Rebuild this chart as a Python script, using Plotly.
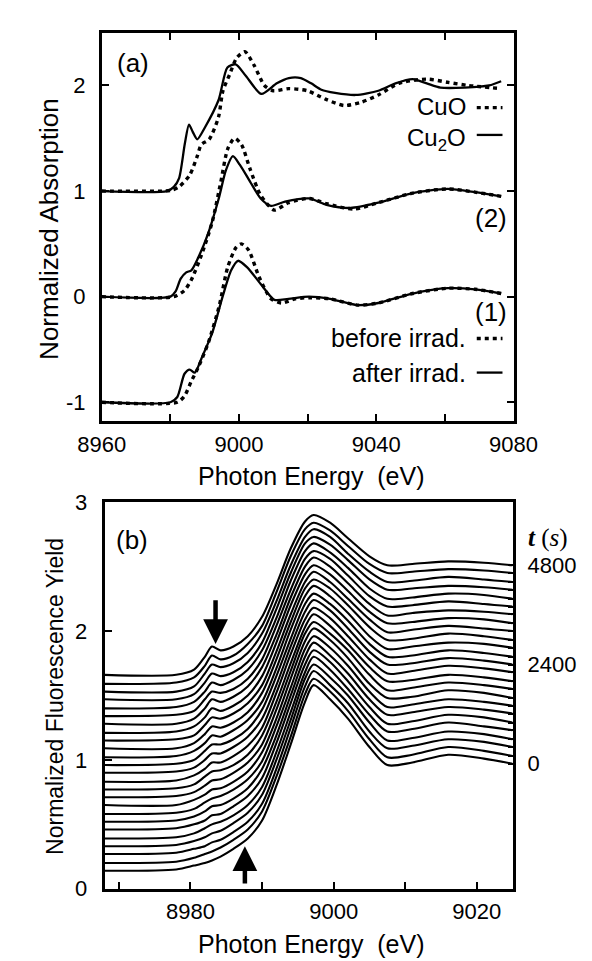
import plotly.graph_objects as go

W, H = 592, 961

# ---------------- Panel (a): normalized absorption (eV, mu) ----------------
cuo_E = [8960, 8978, 8980.5, 8982.5, 8985.6, 8987.8, 8989, 8991.3, 8994, 8995.3, 8997.2,
         8999.3, 9001.7, 9004.4, 9007.4, 9010, 9014.5, 9019.9, 9025.2, 9030.6, 9035.5,
         9040.6, 9046.6, 9054.7, 9060.8, 9066.8, 9076.4]
cuo_mu = [1.00, 1.00, 1.01, 1.04, 1.15, 1.33, 1.44, 1.49, 1.70, 1.95, 2.10,
          2.26, 2.32, 2.19, 2.00, 1.95, 1.97, 1.95, 1.87, 1.81, 1.84,
          1.91, 2.02, 2.06, 2.03, 2.00, 1.97]

cu2o_E = [8960, 8979, 8981, 8982.5, 8984.2, 8985.4, 8986.5, 8987.8, 8990, 8994, 8996.6,
          8999, 9002, 9006.5, 9011, 9014.5, 9018, 9021, 9024, 9028, 9034, 9040.6, 9045.6,
          9050.6, 9054.7, 9058.7, 9065.8, 9072.9, 9076.4]
cu2o_mu = [1.00, 1.00, 1.04, 1.12, 1.45, 1.63, 1.56, 1.49, 1.60, 1.86, 2.17,
           2.20, 2.09, 1.92, 2.02, 2.07, 2.07, 2.02, 1.96, 1.93, 1.91, 1.95, 2.02,
           2.06, 2.02, 1.98, 1.98, 2.00, 2.04]

s2_after_E = [8960, 8980, 8981.5, 8983, 8984.6, 8986.1, 8988.1, 8991, 8994, 8996.2, 8998.2,
              9000.2, 9003.2, 9006.3, 9009.3, 9013.4, 9020.4, 9025.5, 9032.5, 9040.6,
              9050.6, 9060.8, 9068.8, 9076.4]
s2_after_mu = [0.00, 0.00, 0.05, 0.17, 0.23, 0.25, 0.37, 0.60, 0.92, 1.20, 1.33,
               1.25, 1.09, 0.93, 0.86, 0.90, 0.93, 0.87, 0.84, 0.89,
               0.98, 1.02, 0.99, 0.95]

s2_before_E = [8960, 8981, 8984.1, 8986.1, 8989.1, 8992.2, 8994.7, 8996.7, 8998.7, 9000.7,
               9003.2, 9006.3, 9010.3, 9014.4, 9020.4, 9025.5, 9033.5, 9040.6, 9050.6,
               9060.8, 9068.8, 9076.4]
s2_before_mu = [0.00, 0.00, 0.06, 0.16, 0.40, 0.71, 1.09, 1.40, 1.50, 1.44,
                1.21, 0.96, 0.82, 0.89, 0.93, 0.88, 0.83, 0.89, 0.98,
                1.02, 0.99, 0.95]

s1_after_E = [8960, 8980, 8982, 8984.1, 8985.6, 8987.1, 8989.1, 8992.2, 8995.2, 8997.7,
              8999.7, 9002.3, 9006.3, 9010.3, 9014.4, 9020.4, 9026.5, 9034.5, 9040.6,
              9050.6, 9060.8, 9068.8, 9076.4]
s1_after_mu = [-1.00, -1.00, -0.95, -0.73, -0.69, -0.72, -0.58, -0.34, 0.00, 0.25,
               0.34, 0.28, 0.12, -0.03, -0.02, 0.00, -0.02, -0.08, -0.06,
               0.03, 0.08, 0.07, 0.03]

s1_before_E = [8960, 8982, 8984.1, 8986.1, 8988.1, 8991.1, 8994.2, 8996.7, 8999.2, 9000.7,
               9002.8, 9005.8, 9009.3, 9012.4, 9016.4, 9020.4, 9026.5, 9034.5, 9040.6,
               9050.6, 9060.8, 9068.8, 9076.4]
s1_before_mu = [-1.00, -1.00, -0.94, -0.80, -0.67, -0.43, -0.09, 0.28, 0.47, 0.50,
                0.44, 0.19, -0.02, -0.06, -0.02, -0.01, -0.02, -0.08, -0.06,
                0.03, 0.08, 0.07, 0.03]

a_xticks = [8960, 9000, 9040, 9080]
a_yticks = [-1, 0, 1, 2]
a_yticktext = ["-1", "0", "1", "2"]

# ---------------- Panel (b): fluorescence yield vs time ----------------
fy_energy = [8968, 8978, 8980.5, 8982, 8983, 8984.2, 8986, 8988, 8990, 8992, 8994,
             8996, 8997.2, 8999.5, 9002, 9005, 9007.5, 9011, 9016, 9021, 9025]

fy_t0000 = [.14, .15, .18, .20, .22, .25, .31, .39, .53, .80, 1.12, 1.45, 1.58, 1.47, 1.32, 1.10, .96, .98, 1.04, 1.01, .97]
fy_t0200 = [.20, .21, .24, .27, .29, .32, .38, .46, .60, .87, 1.18, 1.51, 1.63, 1.53, 1.38, 1.16, 1.02, 1.04, 1.10, 1.07, 1.03]
fy_t0400 = [.27, .28, .31, .33, .36, .38, .44, .52, .66, .93, 1.25, 1.57, 1.69, 1.58, 1.44, 1.22, 1.09, 1.11, 1.16, 1.14, 1.10]
fy_t0600 = [.33, .34, .37, .40, .43, .45, .51, .59, .73, 1.00, 1.31, 1.63, 1.74, 1.64, 1.50, 1.29, 1.15, 1.17, 1.22, 1.20, 1.16]
fy_t0800 = [.39, .40, .43, .47, .50, .52, .57, .65, .79, 1.06, 1.37, 1.68, 1.80, 1.70, 1.55, 1.35, 1.22, 1.24, 1.29, 1.26, 1.23]
fy_t1000 = [.46, .47, .50, .53, .57, .58, .64, .72, .86, 1.13, 1.44, 1.74, 1.85, 1.76, 1.61, 1.41, 1.28, 1.30, 1.35, 1.33, 1.29]
fy_t1200 = [.52, .53, .56, .60, .64, .65, .70, .78, .93, 1.19, 1.50, 1.80, 1.91, 1.81, 1.67, 1.47, 1.35, 1.37, 1.41, 1.39, 1.36]
fy_t1400 = [.58, .59, .62, .67, .70, .72, .77, .85, .99, 1.26, 1.56, 1.86, 1.96, 1.87, 1.73, 1.53, 1.41, 1.43, 1.47, 1.45, 1.42]
fy_t1600 = [.65, .65, .69, .73, .77, .78, .83, .91, 1.06, 1.32, 1.63, 1.92, 2.02, 1.93, 1.79, 1.59, 1.48, 1.49, 1.54, 1.52, 1.48]
fy_t1800 = [.71, .72, .75, .80, .84, .85, .90, .98, 1.12, 1.39, 1.69, 1.98, 2.07, 1.98, 1.85, 1.66, 1.54, 1.56, 1.60, 1.58, 1.55]
fy_t2000 = [.77, .78, .81, .87, .91, .92, .96, 1.04, 1.19, 1.45, 1.75, 2.03, 2.13, 2.04, 1.90, 1.72, 1.61, 1.62, 1.66, 1.64, 1.61]
fy_t2200 = [.83, .84, .88, .93, .98, .98, 1.03, 1.11, 1.25, 1.52, 1.82, 2.09, 2.18, 2.10, 1.96, 1.78, 1.67, 1.69, 1.73, 1.71, 1.68]
fy_t2400 = [.90, .91, .94, 1.00, 1.05, 1.05, 1.10, 1.18, 1.32, 1.58, 1.88, 2.15, 2.24, 2.16, 2.02, 1.84, 1.74, 1.75, 1.79, 1.77, 1.74]
fy_t2600 = [.96, .97, 1.00, 1.07, 1.12, 1.12, 1.16, 1.24, 1.39, 1.65, 1.94, 2.21, 2.29, 2.21, 2.08, 1.90, 1.80, 1.81, 1.85, 1.83, 1.80]
fy_t2800 = [1.02, 1.03, 1.07, 1.13, 1.19, 1.18, 1.23, 1.31, 1.45, 1.71, 2.01, 2.27, 2.35, 2.27, 2.14, 1.96, 1.86, 1.88, 1.91, 1.90, 1.87]
fy_t3000 = [1.09, 1.09, 1.13, 1.20, 1.26, 1.25, 1.29, 1.37, 1.52, 1.78, 2.07, 2.33, 2.40, 2.33, 2.20, 2.03, 1.93, 1.94, 1.98, 1.96, 1.93]
fy_t3200 = [1.15, 1.16, 1.19, 1.27, 1.33, 1.32, 1.36, 1.44, 1.58, 1.84, 2.13, 2.38, 2.46, 2.38, 2.25, 2.09, 1.99, 2.01, 2.04, 2.02, 2.00]
fy_t3400 = [1.21, 1.22, 1.26, 1.33, 1.40, 1.38, 1.42, 1.50, 1.65, 1.91, 2.20, 2.44, 2.51, 2.44, 2.31, 2.15, 2.06, 2.07, 2.10, 2.09, 2.06]
fy_t3600 = [1.28, 1.28, 1.32, 1.40, 1.47, 1.45, 1.49, 1.57, 1.72, 1.97, 2.26, 2.50, 2.57, 2.50, 2.37, 2.21, 2.12, 2.14, 2.16, 2.15, 2.13]
fy_t3800 = [1.34, 1.35, 1.38, 1.47, 1.53, 1.52, 1.55, 1.63, 1.78, 2.04, 2.32, 2.56, 2.62, 2.56, 2.43, 2.27, 2.19, 2.20, 2.23, 2.21, 2.19]
fy_t4000 = [1.40, 1.41, 1.45, 1.53, 1.60, 1.58, 1.62, 1.70, 1.85, 2.10, 2.39, 2.62, 2.68, 2.61, 2.49, 2.33, 2.25, 2.26, 2.29, 2.28, 2.25]
fy_t4200 = [1.47, 1.47, 1.51, 1.60, 1.67, 1.65, 1.68, 1.76, 1.91, 2.17, 2.45, 2.68, 2.73, 2.67, 2.55, 2.40, 2.32, 2.33, 2.35, 2.34, 2.32]
fy_t4400 = [1.53, 1.53, 1.57, 1.67, 1.74, 1.72, 1.75, 1.83, 1.98, 2.23, 2.51, 2.73, 2.79, 2.73, 2.60, 2.46, 2.38, 2.39, 2.42, 2.40, 2.38]
fy_t4600 = [1.59, 1.60, 1.64, 1.73, 1.81, 1.78, 1.81, 1.90, 2.04, 2.30, 2.58, 2.79, 2.84, 2.78, 2.66, 2.52, 2.45, 2.46, 2.48, 2.47, 2.45]
fy_t4800 = [1.66, 1.66, 1.70, 1.80, 1.88, 1.85, 1.88, 1.96, 2.11, 2.36, 2.64, 2.85, 2.90, 2.84, 2.72, 2.58, 2.51, 2.52, 2.54, 2.53, 2.51]

t_seconds = [0, 200, 400, 600, 800, 1000, 1200, 1400, 1600, 1800, 2000, 2200, 2400,
             2600, 2800, 3000, 3200, 3400, 3600, 3800, 4000, 4200, 4400, 4600, 4800]
t_labelled = [0, 2400, 4800]
b_yticks = [0, 1, 2, 3]

fy_curves = [fy_t0000, fy_t0200, fy_t0400, fy_t0600, fy_t0800, fy_t1000, fy_t1200,
             fy_t1400, fy_t1600, fy_t1800, fy_t2000, fy_t2200, fy_t2400, fy_t2600,
             fy_t2800, fy_t3000, fy_t3200, fy_t3400, fy_t3600, fy_t3800, fy_t4000,
             fy_t4200, fy_t4400, fy_t4600, fy_t4800]

# ---------------- figure ----------------
BLACK = "#000000"
FONT = "Liberation Sans, Arial, Helvetica, sans-serif"
SERIF = "Liberation Serif, DejaVu Serif, Times New Roman, serif"
DOT = "4px,4px"

fig = go.Figure()

for E, mu in [(cuo_E, cuo_mu), (s2_before_E, s2_before_mu), (s1_before_E, s1_before_mu)]:
    fig.add_trace(go.Scatter(x=E, y=mu, mode="lines", xaxis="x", yaxis="y",
                             line=dict(color=BLACK, width=3.4, dash=DOT, shape="spline", smoothing=0.7),
                             hoverinfo="skip"))
for E, mu in [(cu2o_E, cu2o_mu), (s2_after_E, s2_after_mu), (s1_after_E, s1_after_mu)]:
    fig.add_trace(go.Scatter(x=E, y=mu, mode="lines", xaxis="x", yaxis="y",
                             line=dict(color=BLACK, width=2.3, shape="spline", smoothing=0.7),
                             hoverinfo="skip"))

for t, row in zip(t_seconds, fy_curves):
    fig.add_trace(go.Scatter(x=fy_energy, y=row, mode="lines", xaxis="x2", yaxis="y2",
                             name=f"{t} s",
                             line=dict(color=BLACK, width=2.1, shape="spline", smoothing=0.8),
                             hoverinfo="skip"))

# invisible carrier so the right-hand time axis (curve ends) gets drawn
end_values = [row[-1] for row in fy_curves]
fig.add_trace(go.Scatter(x=[fy_energy[-1]] * len(end_values), y=end_values, mode="markers",
                         xaxis="x2", yaxis="y3", marker=dict(opacity=0, size=1),
                         hoverinfo="skip", showlegend=False))


def PX(x):
    return x / W


def PY(y):
    return 1 - y / H


tickfont = dict(family=FONT, size=22, color=BLACK)
axis_common = dict(showgrid=False, zeroline=False, showline=True, linecolor=BLACK,
                   linewidth=3, ticks="inside", ticklen=7, tickwidth=1.5,
                   tickcolor=BLACK, tickfont=tickfont)

fig.update_layout(
    width=W, height=H, margin=dict(l=0, r=0, t=0, b=0),
    paper_bgcolor="white", plot_bgcolor="white", showlegend=False,
    font=dict(family=FONT, color=BLACK),
    xaxis=dict(domain=[PX(76), PX(524)], range=[8960, 9080], anchor="y",
               tickvals=a_xticks, mirror="ticks", ticklabelstandoff=1,
               minor=dict(dtick=20, tick0=8960, ticks="inside", ticklen=7, tickwidth=1.5, tickcolor=BLACK),
               **axis_common),
    yaxis=dict(domain=[PY(412), PY(13)], range=[-1.18, 2.5], anchor="x",
               tickvals=a_yticks, ticktext=a_yticktext, mirror="ticks", ticklabelstandoff=9,
               **axis_common),
    xaxis2=dict(domain=[PX(79), PX(523)], range=[8968, 9025], anchor="y2",
                dtick=20, tick0=8980, mirror=True, ticklabelstandoff=1,
                minor=dict(dtick=10, tick0=8970, ticks="inside", ticklen=7, tickwidth=1.5, tickcolor=BLACK),
                **axis_common),
    yaxis2=dict(domain=[PY(892), PY(495)], range=[0, 3], anchor="x2",
                tickvals=b_yticks, mirror=True, ticklabelstandoff=10,
                **axis_common),
    yaxis3=dict(overlaying="y2", anchor="x2", side="right", range=[0, 3],
                tickvals=end_values,
                ticktext=[str(t) if t in t_labelled else "" for t in t_seconds],
                ticks="inside", ticklen=5, tickwidth=1.5, tickcolor=BLACK,
                showline=False, showgrid=False, zeroline=False,
                tickfont=tickfont, ticklabelstandoff=14),
)

annotations = []


def text(s, x, y, xanchor="center", size=26, angle=0, family=FONT):
    annotations.append(dict(text=s, x=PX(x), y=PY(y), xref="paper", yref="paper",
                            xanchor=xanchor, yanchor="middle", showarrow=False,
                            textangle=angle, font=dict(family=family, size=size, color=BLACK)))


# panel (a) labels
text("(a)", 110, 44)
text("CuO", 474, 89, xanchor="right", size=24)
text("Cu<sub>2</sub>O", 474, 123, xanchor="right", size=24)
text("(2)", 500, 203)
text("(1)", 500, 300)
text("before irrad.", 475, 327, xanchor="right", size=25)
text("after irrad.", 475, 362, xanchor="right", size=25)
text("Normalized Absorption", 19, 214, size=26, angle=-90)
text("Photon Energy\u00a0 (eV)", 304, 468, size=25)

# panel (b) labels
text("(b)", 109, 534)
text("<b><i>t</i></b> (<i>s</i>)", 562, 532, size=25, family=SERIF)
text("Normalized Fluorescence Yield", 25, 694, size=23, angle=-90)
text("Photon Energy\u00a0 (eV)", 304, 949, size=25)

# arrows in panel (b)
annotations.append(dict(x=8983.5, y=1.90, ax=8983.5, ay=2.25, xref="x2", yref="y2",
                        axref="x2", ayref="y2", text="", showarrow=True,
                        arrowhead=2, arrowsize=1.1, arrowwidth=4.5, arrowcolor=BLACK))
annotations.append(dict(x=8987.6, y=0.33, ax=8987.6, ay=0.03, xref="x2", yref="y2",
                        axref="x2", ayref="y2", text="", showarrow=True,
                        arrowhead=2, arrowsize=1.1, arrowwidth=4.5, arrowcolor=BLACK))

fig.update_layout(annotations=annotations)

# legend keys (panel a)
shapes = []
for y, dash, w in [(90, DOT, 3.4), (118, "solid", 2.3), (327, DOT, 3.4), (362, "solid", 2.3)]:
    shapes.append(dict(type="line", xref="paper", yref="paper",
                       x0=PX(484), x1=PX(512), y0=PY(y), y1=PY(y),
                       line=dict(color=BLACK, width=w, dash=dash)))
fig.update_layout(shapes=shapes)

fig.write_html("out.html")
